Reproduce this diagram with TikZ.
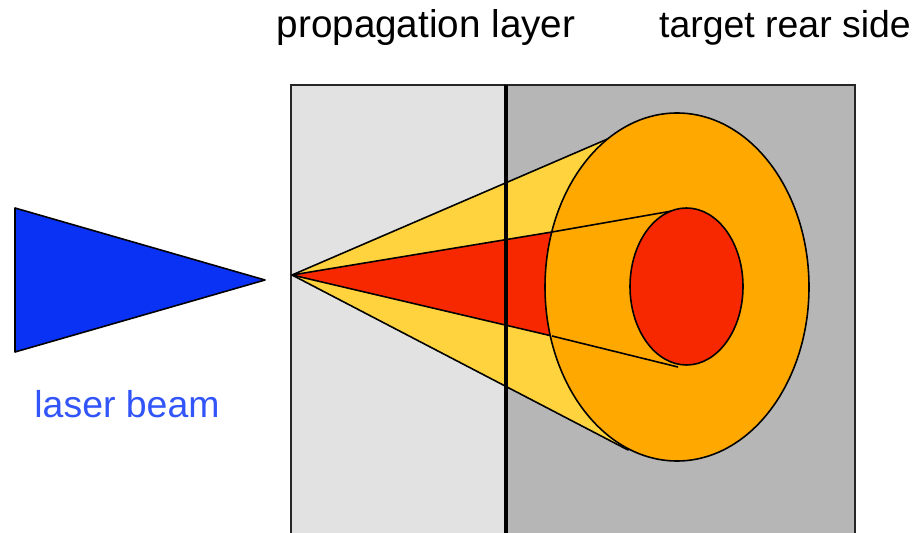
\documentclass[tikz,border=0pt]{standalone}
\usepackage{xcolor}
\usepackage{fontspec}
\setmainfont{Liberation Sans}
\definecolor{lpLayer} {RGB}{226,226,226}
\definecolor{lpTarget}{RGB}{182,182,182}
\definecolor{lpBlue}  {RGB}{ 10, 50,245}
\definecolor{lpText}  {RGB}{ 50, 85,250}
\definecolor{lpYellow}{RGB}{255,211, 61}
\definecolor{lpOrange}{RGB}{255,168,  0}
\definecolor{lpRed}   {RGB}{247, 40,  0}

\begin{document}
\begin{tikzpicture}[
  x=0.02cm,y=-0.02cm,
  every node/.style={font=\fontsize{21.3}{25}\selectfont},
  outline/.style={draw=black,line width=0.9pt,line join=round},
  caption/.style={anchor=center,inner sep=0pt}
]
\useasboundingbox (0,0) rectangle (916,533);
\clip (0,0) rectangle (916,533);
% target slab
\fill[lpLayer]  (291,85) rectangle (506,545);
\fill[lpTarget] (506,85) rectangle (855,545);
\draw[line width=1.1pt,draw=black!85] (291,85) rectangle (855,545);
% laser
\draw[outline,fill=lpBlue] (15,208) -- (265,280) -- (15,352) -- cycle;
% outer cone
\coordinate (apex) at (292,275);
\draw[outline,fill=lpYellow] (apex) -- (640,125) -- (628,450) -- cycle;
\draw[outline,fill=lpRed] (apex) -- (552,232) -- (552,336) -- cycle;
\draw[line width=2.4pt] (506,85) -- (506,545);
\draw[outline,fill=lpOrange] (677,287) ellipse [x radius=132,y radius=174];
% inner cone
\draw[outline] (552,232) -- (672,211);
\draw[outline] (552,336) -- (678,367);
\draw[outline,fill=lpRed] (686.5,286.5) ellipse [x radius=56.5,y radius=78.5];
% labels
\node[caption,font=\fontsize{22}{26}\selectfont] (layer) at (426,28) {propagation layer};
\node[caption] (rear) at (785,28) {target rear side};
\node[caption,text=lpText] (laser) at (127,404) {laser beam};
\end{tikzpicture}
\end{document}
